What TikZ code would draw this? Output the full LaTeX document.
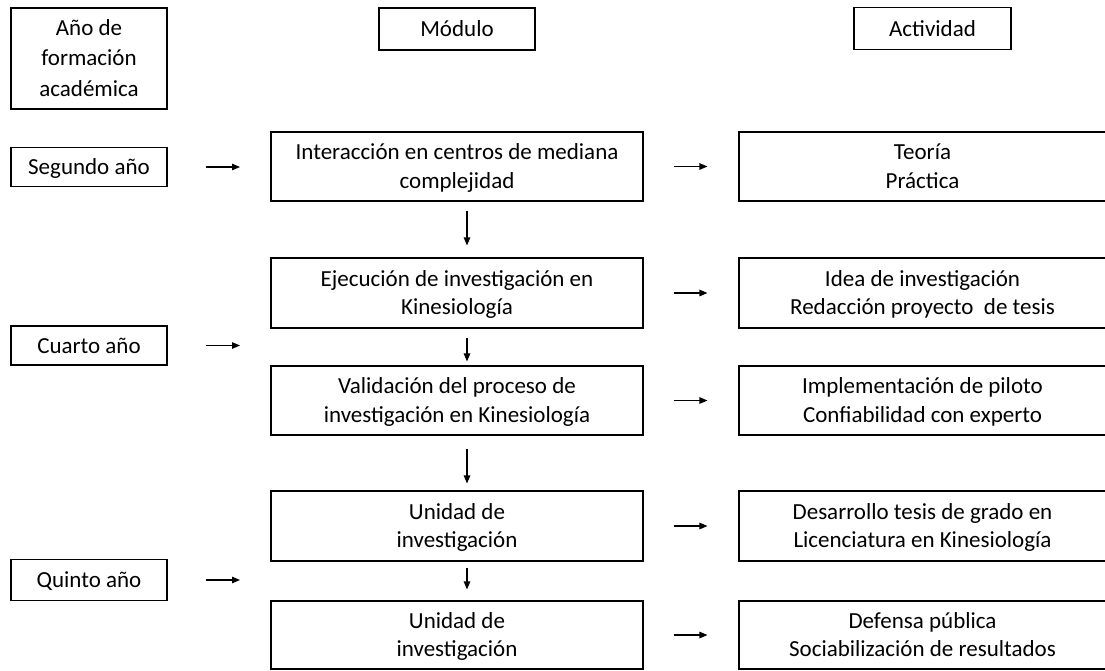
\documentclass[tikz,border=0pt]{standalone}
\usepackage{fontspec}
\setmainfont{Carlito}
\usetikzlibrary{arrows.meta}
\begin{document}
\begin{tikzpicture}[x=1pt,y=-1pt,
    box/.style={draw, line width=1.1pt, align=center, inner sep=0pt,
        font=\fontsize{23}{28.5}\selectfont, text height=20pt, text depth=5pt},
    flecha/.style={-{Triangle[length=8pt,width=6.5pt]}, line width=1.1pt}]
    \useasboundingbox (0,0) rectangle (1105,670);

    % Headings
    \node[box, text height=80pt, minimum width=156, minimum height=101] (anio) at (89,58.5) {Año de\\[2pt]formación\\[2pt]académica};
    \node[box, minimum width=156, minimum height=42] (modulo) at (457,29) {Módulo};
    \node[box, minimum width=157, minimum height=42] (actividad) at (932.5,28.5) {Actividad};

    % Modules and activities
    \foreach \i/\yc/\h/\mtext/\atext in {
        1/166.5/69/{Interacción en centros de mediana\\complejidad}/{Teoría\\Práctica},
        2/293/70/{Ejecución de investigación en\\Kinesiología}/{Idea de investigación\\Redacción proyecto~ de tesis},
        3/400.5/69/{Validación del proceso de\\investigación en Kinesiología}/{Implementación de piloto\\Confiabilidad con experto},
        4/526/70/{Unidad de\\investigación}/{Desarrollo tesis de grado en\\Licenciatura en Kinesiología},
        5/635/68/{Unidad de\\investigación}/{Defensa pública\\Sociabilización de resultados}} {
        \node[box, text height=48pt, minimum width=372, minimum height=\h] (m\i) at (457,\yc) {\mtext};
        \node[box, text height=48pt, minimum width=367, minimum height=\h] (a\i) at (922.5,\yc) {\atext};
        \draw[flecha, shorten <=30pt, shorten >=31pt] (m\i) -- (a\i);
    }

    \draw[flecha, shorten <=9pt, shorten >=12pt] ([xshift=10pt]m1.south) -- ([xshift=10pt]m2.north);
    \draw[flecha, shorten <=9pt, shorten >=4pt] ([xshift=10pt]m2.south) -- ([xshift=10pt]m3.north);
    \draw[flecha, shorten <=13pt, shorten >=7pt] ([xshift=10pt]m3.south) -- ([xshift=10pt]m4.north);
    \draw[flecha, shorten <=6pt, shorten >=11pt] ([xshift=10pt]m4.south) -- ([xshift=10pt]m5.north);

    % Years
    \node[box, minimum width=156, minimum height=39] (segundo) at (89,167) {Segundo año};
    \node[box, minimum width=156, minimum height=39] (cuarto) at (89,345.5) {Cuarto año};
    \node[box, minimum width=156, minimum height=41] (quinto) at (89,580) {Quinto año};
    \coordinate (segundofin) at (240,167);
    \coordinate (cuartofin) at (240,345.5);
    \coordinate (quintofin) at (240,580);
    \draw[flecha, shorten <=38pt] (segundo) -- (segundofin);
    \draw[flecha, shorten <=38pt] (cuarto) -- (cuartofin);
    \draw[flecha, shorten <=38pt] (quinto) -- (quintofin);
\end{tikzpicture}
\end{document}
